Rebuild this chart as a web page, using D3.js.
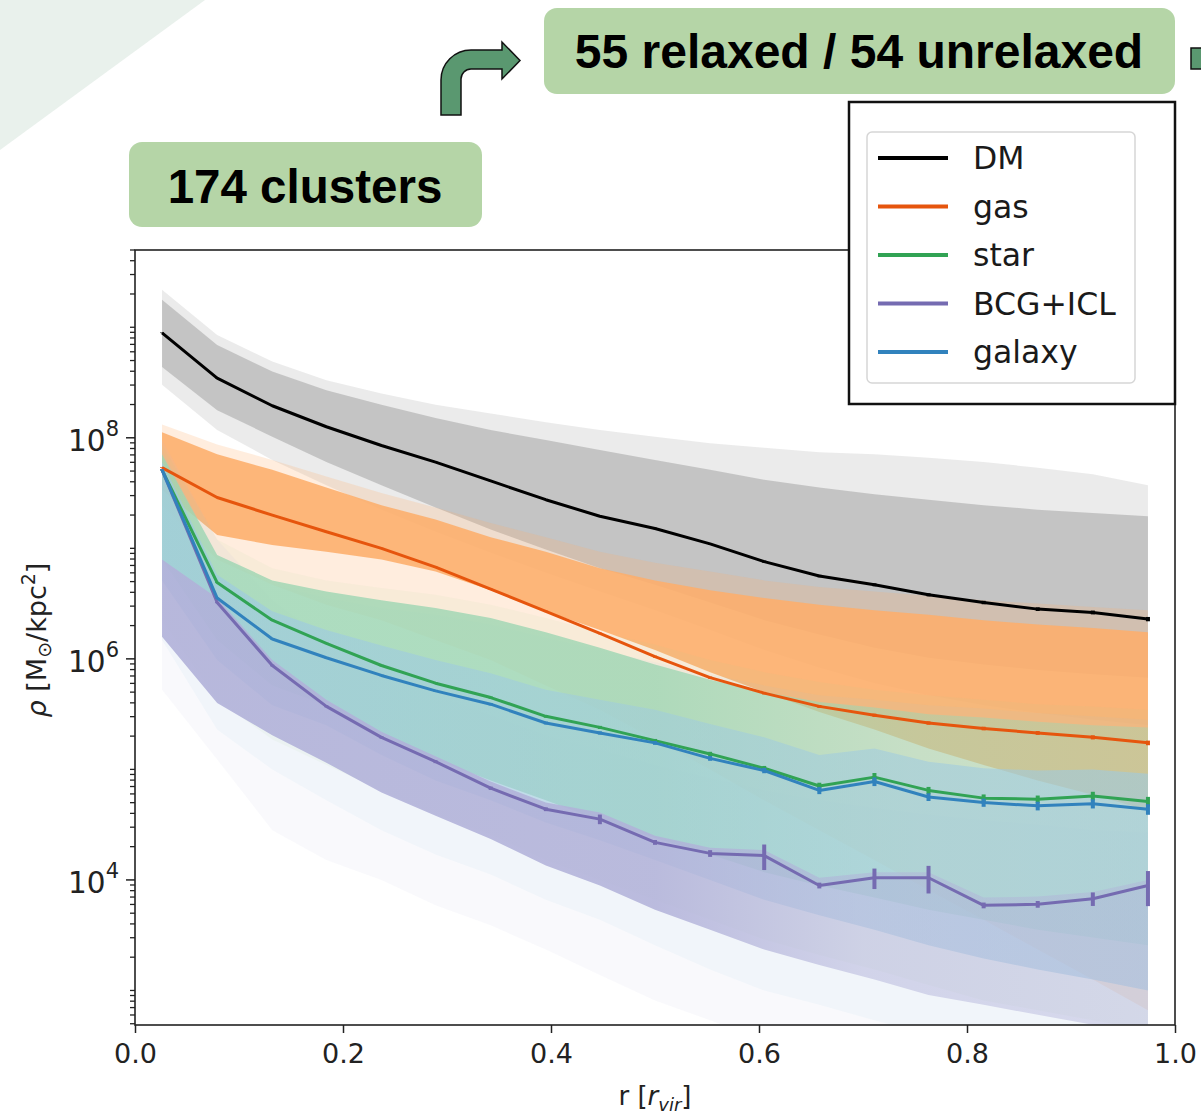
<!DOCTYPE html>
<html>
<head>
<meta charset="utf-8">
<script src="https://cdn.jsdelivr.net/npm/d3@7/dist/d3.min.js"></script>
<style>
  html, body { margin: 0; padding: 0; background: #ffffff; }
  svg { display: block; font-family: "DejaVu Sans", sans-serif; }
</style>
</head>
<body>
<svg id="chart" width="1201" height="1114"></svg>
<script>
// Radial bins: centres of 19 equal-width bins in r / r_vir
const rBins = [0.026, 0.079, 0.132, 0.184, 0.237, 0.289, 0.342, 0.395, 0.447, 0.500,
               0.553, 0.605, 0.658, 0.711, 0.763, 0.816, 0.868, 0.921, 0.974];

// Median projected density profiles, log10(rho / [Msun kpc^-2])
const medDM     = [8.95, 8.54, 8.29, 8.10, 7.93, 7.78, 7.61, 7.44, 7.29, 7.18, 7.04, 6.88, 6.75, 6.67, 6.58, 6.51, 6.45, 6.42, 6.36];
const medGas    = [7.73, 7.46, 7.30, 7.15, 7.00, 6.83, 6.63, 6.43, 6.23, 6.02, 5.83, 5.69, 5.57, 5.49, 5.42, 5.37, 5.33, 5.29, 5.24];
const medStar   = [7.71, 6.69, 6.35, 6.14, 5.94, 5.78, 5.65, 5.48, 5.38, 5.26, 5.14, 5.01, 4.85, 4.93, 4.81, 4.74, 4.73, 4.76, 4.71];
const medBCG    = [7.71, 6.51, 5.94, 5.57, 5.29, 5.07, 4.83, 4.64, 4.55, 4.34, 4.24, 4.22, 3.95, 4.02, 4.02, 3.77, 3.78, 3.83, 3.95];
const medGalaxy = [7.71, 6.55, 6.18, 6.01, 5.85, 5.71, 5.59, 5.42, 5.33, 5.24, 5.10, 4.99, 4.81, 4.89, 4.75, 4.70, 4.67, 4.69, 4.64];

// Relative uncertainty of the medians (sigma / rho)
const errDM     = [0.006, 0.006, 0.007, 0.007, 0.008, 0.009, 0.010, 0.011, 0.013, 0.015, 0.018, 0.022, 0.026, 0.030, 0.033, 0.036, 0.038, 0.040, 0.045];
const errGas    = [0.008, 0.008, 0.009, 0.010, 0.011, 0.012, 0.013, 0.015, 0.017, 0.020, 0.023, 0.026, 0.030, 0.033, 0.036, 0.038, 0.040, 0.043, 0.048];
const errStar   = [0.010, 0.010, 0.012, 0.014, 0.017, 0.020, 0.024, 0.028, 0.032, 0.036, 0.045, 0.050, 0.070, 0.090, 0.075, 0.080, 0.080, 0.090, 0.100];
const errBCG    = [0.010, 0.015, 0.020, 0.020, 0.025, 0.030, 0.035, 0.040, 0.100, 0.050, 0.070, 0.260, 0.060, 0.210, 0.280, 0.060, 0.070, 0.140, 0.350];
const errGalaxy = [0.010, 0.010, 0.013, 0.015, 0.018, 0.022, 0.025, 0.030, 0.034, 0.040, 0.050, 0.055, 0.075, 0.090, 0.080, 0.085, 0.090, 0.095, 0.110];

// Spread of the individual cluster profiles (log10 rho): dense core and faint outskirts
const dmInnerHi  = [9.25, 8.84, 8.60, 8.43, 8.30, 8.18, 8.07, 7.98, 7.89, 7.80, 7.71, 7.62, 7.55, 7.49, 7.44, 7.39, 7.35, 7.32, 7.29];
const dmInnerLo  = [8.64, 8.25, 8.01, 7.78, 7.57, 7.37, 7.17, 6.99, 6.82, 6.67, 6.51, 6.35, 6.22, 6.10, 6.01, 5.95, 5.90, 5.86, 5.83];
const dmOuterHi  = [9.34, 8.93, 8.69, 8.52, 8.40, 8.30, 8.22, 8.14, 8.07, 8.01, 7.95, 7.91, 7.87, 7.85, 7.82, 7.78, 7.73, 7.67, 7.57];
const dmOuterLo  = [8.48, 8.07, 7.80, 7.57, 7.35, 7.15, 6.96, 6.78, 6.61, 6.44, 6.26, 6.08, 5.92, 5.78, 5.67, 5.58, 5.51, 5.45, 5.40];

const gasInnerHi = [8.05, 7.85, 7.71, 7.55, 7.39, 7.26, 7.10, 6.97, 6.82, 6.71, 6.62, 6.55, 6.49, 6.44, 6.40, 6.35, 6.31, 6.28, 6.24];
const gasInnerLo = [7.53, 7.12, 7.03, 6.97, 6.90, 6.79, 6.62, 6.43, 6.26, 6.08, 5.88, 5.70, 5.52, 5.36, 5.19, 5.04, 4.90, 4.77, 4.63];
const gasOuterHi = [8.12, 7.94, 7.80, 7.65, 7.50, 7.37, 7.23, 7.10, 6.97, 6.87, 6.79, 6.71, 6.65, 6.61, 6.57, 6.53, 6.50, 6.47, 6.44];
const gasOuterLo = [7.39, 6.90, 6.67, 6.49, 6.35, 6.17, 5.99, 5.76, 5.54, 5.27, 5.00, 4.72, 4.45, 4.18, 3.91, 3.64, 3.37, 3.10, 2.82];

const starInnerHi = [7.85, 6.94, 6.71, 6.61, 6.53, 6.46, 6.37, 6.24, 6.10, 5.95, 5.81, 5.70, 5.61, 5.56, 5.50, 5.47, 5.43, 5.40, 5.38];
const starInnerLo = [6.90, 6.17, 5.76, 5.58, 5.31, 5.09, 4.90, 4.72, 4.54, 4.38, 4.23, 4.07, 3.95, 3.84, 3.73, 3.64, 3.55, 3.48, 3.41];
const starOuterHi = [7.94, 7.08, 6.82, 6.71, 6.64, 6.58, 6.49, 6.37, 6.24, 6.13, 5.99, 5.88, 5.79, 5.72, 5.67, 5.63, 5.59, 5.57, 5.54];
const starOuterLo = [6.35, 5.63, 5.27, 5.04, 4.81, 4.59, 4.41, 4.18, 4.00, 3.82, 3.64, 3.46, 3.32, 3.19, 3.05, 2.91, 2.82, 2.73, 2.64];

const bcgInnerHi = [6.90, 6.55, 5.99, 5.63, 5.34, 5.12, 4.89, 4.70, 4.61, 4.40, 4.29, 4.27, 4.02, 4.07, 4.07, 3.84, 3.85, 3.89, 4.00];
const bcgInnerLo = [6.20, 5.60, 5.31, 5.06, 4.79, 4.58, 4.37, 4.13, 3.95, 3.73, 3.55, 3.37, 3.23, 3.10, 2.96, 2.87, 2.78, 2.69, 2.64];
const bcgOuterHi = [7.98, 7.08, 6.53, 6.17, 5.90, 5.67, 5.49, 5.31, 5.18, 5.04, 4.92, 4.81, 4.72, 4.65, 4.59, 4.54, 4.50, 4.45, 4.43];
const bcgOuterLo = [5.72, 5.09, 4.45, 4.18, 4.00, 3.77, 3.59, 3.37, 3.14, 2.91, 2.73, 2.55, 2.37, 2.19, 2.01, 1.92, 1.83, 1.74, 1.65];

const galInnerHi = [7.78, 6.76, 6.43, 6.26, 6.12, 5.99, 5.87, 5.72, 5.63, 5.54, 5.41, 5.29, 5.13, 5.19, 5.07, 5.01, 4.99, 5.00, 4.96];
const galInnerLo = [6.71, 5.99, 5.58, 5.40, 5.13, 4.90, 4.72, 4.52, 4.36, 4.18, 4.00, 3.82, 3.68, 3.55, 3.41, 3.29, 3.19, 3.10, 3.00];
const galOuterHi = [7.89, 6.94, 6.67, 6.55, 6.46, 6.40, 6.31, 6.19, 6.08, 5.97, 5.86, 5.76, 5.67, 5.63, 5.58, 5.55, 5.51, 5.48, 5.45];
const galOuterLo = [6.17, 5.36, 5.00, 4.72, 4.45, 4.23, 4.05, 3.82, 3.64, 3.41, 3.19, 3.00, 2.87, 2.73, 2.60, 2.51, 2.42, 2.33, 2.24];

// Components, in legend order
const componentNames = ["DM", "gas", "star", "BCG+ICL", "galaxy"];
const lineColors = ["#000000", "#e6550d", "#31a354", "#756bb1", "#3182bd"];
const bandColors = ["#bdbdbd", "#fdae6b", "#a1d99b", "#bcbddc", "#9ecae1"];

// Axis ticks
const xTickValues = [0.0, 0.2, 0.4, 0.6, 0.8, 1.0];
const yLabelExponents = [4, 6, 8];

// Slide annotations
const headerSample = "55 relaxed / 54 unrelaxed";
const headerTotal = "174 clusters";

// ------------------------------------------------------------------
const svg = d3.select("#chart");
const plot = { left: 135, right: 1175, top: 250, bottom: 1025 };

const x = d3.scaleLinear().domain([0, 1]).range([plot.left, plot.right]);
const y = d3.scaleLog().domain([487, 5.0e9]).range([plot.bottom, plot.top]);

// Background corner shape
svg.append("polygon")
  .attr("points", "0,0 205,0 0,150")
  .attr("fill", "#e9f1ec");

const defs = svg.append("defs");
defs.append("clipPath").attr("id", "plotClip")
  .append("rect")
  .attr("x", plot.left).attr("y", plot.top)
  .attr("width", plot.right - plot.left).attr("height", plot.bottom - plot.top);

// Horizontal opacity ramps: the stellar profiles pile up differently with radius
function ramp(id, color, stops) {
  const g = defs.append("linearGradient")
    .attr("id", id)
    .attr("gradientUnits", "userSpaceOnUse")
    .attr("x1", plot.left).attr("x2", plot.right).attr("y1", 0).attr("y2", 0);
  stops.forEach(([o, a]) =>
    g.append("stop").attr("offset", o).attr("stop-color", color).attr("stop-opacity", a));
}
// star profiles are interleaved with the (blue) galaxy ones, giving a mint tone
ramp("starFade", "#9ed6b3", [[0, 0.82], [0.5, 0.8], [0.75, 0.5], [1, 0.42]]);
ramp("galFade", bandColors[4], [[0, 0.7], [0.5, 0.5], [1, 0.6]]);
ramp("bcgFade", "#b1b1d9", [[0, 0.9], [0.5, 0.85], [0.7, 0.5], [1, 0.4]]);

const gPlot = svg.append("g").attr("clip-path", "url(#plotClip)");

// Individual-profile envelopes
const area = d3.area()
  .x((d, i) => x(rBins[i]))
  .y0(d => y(Math.pow(10, d[0])))
  .y1(d => y(Math.pow(10, d[1])));

const bandLayers = [
  { lo: dmOuterLo,   hi: dmOuterHi,   fill: bandColors[0], op: 0.30 },
  { lo: dmInnerLo,   hi: dmInnerHi,   fill: bandColors[0], op: 0.85 },
  { lo: gasOuterLo,  hi: gasOuterHi,  fill: bandColors[1], op: 0.22 },
  { lo: gasInnerLo,  hi: gasInnerHi,  fill: bandColors[1], op: 0.88 },
  { lo: starOuterLo, hi: starOuterHi, fill: bandColors[2], op: 0.08 },
  { lo: galOuterLo,  hi: galOuterHi,  fill: bandColors[4], op: 0.08 },
  { lo: bcgOuterLo,  hi: bcgOuterHi,  fill: bandColors[3], op: 0.09 },
  { lo: starInnerLo, hi: starInnerHi, fill: "url(#starFade)", op: 1 },
  { lo: galInnerLo,  hi: galInnerHi,  fill: "url(#galFade)", op: 1 },
  { lo: bcgInnerLo,  hi: bcgInnerHi,  fill: "url(#bcgFade)", op: 1 }
];

gPlot.selectAll("path.band")
  .data(bandLayers)
  .join("path")
  .attr("class", "band")
  .attr("d", d => area(d3.zip(d.lo, d.hi)))
  .attr("fill", d => d.fill)
  .attr("fill-opacity", d => d.op)
  .attr("stroke", "none");

// Median profiles with error bars
const medians = [medDM, medGas, medStar, medBCG, medGalaxy];
const errors = [errDM, errGas, errStar, errBCG, errGalaxy];

const line = d3.line()
  .x((d, i) => x(rBins[i]))
  .y(d => y(Math.pow(10, d)));

medians.forEach((med, k) => {
  const g = gPlot.append("g");
  g.append("path")
    .attr("d", line(med))
    .attr("fill", "none")
    .attr("stroke", lineColors[k])
    .attr("stroke-width", 3)
    .attr("stroke-linejoin", "round");
  g.selectAll("line")
    .data(med.map((v, i) => ({ r: rBins[i], v: Math.pow(10, v), f: errors[k][i] })))
    .join("line")
    .attr("x1", d => x(d.r)).attr("x2", d => x(d.r))
    .attr("y1", d => y(d.v * (1 - d.f)))
    .attr("y2", d => y(d.v * (1 + d.f)))
    .attr("stroke", lineColors[k])
    .attr("stroke-width", 4);
});

// Frame
svg.append("rect")
  .attr("x", plot.left).attr("y", plot.top)
  .attr("width", plot.right - plot.left).attr("height", plot.bottom - plot.top)
  .attr("fill", "none").attr("stroke", "#222").attr("stroke-width", 1.6);

// X axis
const xAxis = d3.axisBottom(x)
  .tickValues(xTickValues)
  .tickFormat(d3.format(".1f"))
  .tickSize(8).tickSizeOuter(0).tickPadding(11);
const gx = svg.append("g").attr("transform", `translate(0,${plot.bottom})`).call(xAxis);
gx.select(".domain").remove();
gx.selectAll(".tick line").attr("stroke", "#222").attr("stroke-width", 1.5);
gx.selectAll(".tick text")
  .style("font-family", "DejaVu Sans").style("font-size", "27px").attr("fill", "#222");

// Y axis: minor ticks at every k*10^n, major ticks at the labelled decades
const allYTicks = y.ticks(60).filter(v => v >= y.domain()[0] && v <= y.domain()[1]);
const majorVals = yLabelExponents.map(e => Math.pow(10, e));
const isMajor = v => majorVals.some(m => Math.abs(Math.log10(v) - Math.log10(m)) < 1e-6);

const gy = svg.append("g").attr("transform", `translate(${plot.left},0)`);
gy.selectAll("line.minor")
  .data(allYTicks.filter(v => !isMajor(v)))
  .join("line")
  .attr("x1", -5).attr("x2", 0)
  .attr("y1", d => y(d)).attr("y2", d => y(d))
  .attr("stroke", "#222").attr("stroke-width", 1.3);
gy.selectAll("line.major")
  .data(majorVals)
  .join("line")
  .attr("x1", -9).attr("x2", 0)
  .attr("y1", d => y(d)).attr("y2", d => y(d))
  .attr("stroke", "#222").attr("stroke-width", 1.5);

const yLab = gy.selectAll("text.ylab")
  .data(yLabelExponents)
  .join("text")
  .attr("class", "ylab")
  .attr("x", -16)
  .attr("y", d => y(Math.pow(10, d)) + 13)
  .attr("text-anchor", "end")
  .style("font-size", "29.5px")
  .attr("fill", "#222");
yLab.append("tspan").text("10");
yLab.append("tspan").attr("dy", -15).style("font-size", "21px").text(d => d);

// Axis titles
const xTitle = svg.append("text")
  .attr("x", 655).attr("y", 1105)
  .attr("text-anchor", "middle")
  .style("font-size", "26px").attr("fill", "#222");
xTitle.append("tspan").text("r [");
xTitle.append("tspan").attr("font-style", "italic").text("r");
xTitle.append("tspan").attr("font-style", "italic").style("font-size", "18px").attr("dy", 6).text("vir");
xTitle.append("tspan").attr("dy", -6).text("]");

const yTitle = svg.append("text")
  .attr("transform", "translate(46,640) rotate(-90)")
  .attr("text-anchor", "middle")
  .style("font-size", "27px").attr("fill", "#222");
yTitle.append("tspan").attr("font-style", "italic").text("ρ");
yTitle.append("tspan").text(" [M");
yTitle.append("tspan").style("font-size", "19px").attr("dy", 5).text("⊙");
yTitle.append("tspan").attr("dy", -5).text("/kpc");
yTitle.append("tspan").style("font-size", "19px").attr("dy", -11).text("2");
yTitle.append("tspan").attr("dy", 11).text("]");

// Legend
const gLeg = svg.append("g");
gLeg.append("rect")
  .attr("x", 849).attr("y", 102).attr("width", 326).attr("height", 302)
  .attr("fill", "#fff").attr("stroke", "#111").attr("stroke-width", 2.5);
gLeg.append("rect")
  .attr("x", 867).attr("y", 132).attr("width", 268).attr("height", 251)
  .attr("rx", 5)
  .attr("fill", "#fff").attr("stroke", "#d6d6d6").attr("stroke-width", 1.5);
const legRows = gLeg.selectAll("g.row")
  .data(componentNames)
  .join("g")
  .attr("transform", (d, i) => `translate(0,${158 + i * 48.5})`);
legRows.append("line")
  .attr("x1", 878).attr("x2", 948)
  .attr("stroke", (d, i) => lineColors[i]).attr("stroke-width", 4);
legRows.append("text")
  .attr("x", 973).attr("y", 11)
  .style("font-size", "31.5px").attr("fill", "#1a1a1a")
  .text(d => d);

// Header boxes and arrow
const boldFont = "'Liberation Sans', Arial, Helvetica, sans-serif";
svg.append("rect")
  .attr("x", 544).attr("y", 8).attr("width", 631).attr("height", 86).attr("rx", 13)
  .attr("fill", "#b5d5a7");
svg.append("text")
  .attr("x", 859).attr("y", 68)
  .attr("text-anchor", "middle")
  .style("font-family", boldFont)
  .style("font-weight", "bold").style("font-size", "48px")
  .attr("fill", "#000")
  .text(headerSample);

svg.append("rect")
  .attr("x", 129).attr("y", 142).attr("width", 353).attr("height", 85).attr("rx", 13)
  .attr("fill", "#b5d5a7");
svg.append("text")
  .attr("x", 305).attr("y", 203)
  .attr("text-anchor", "middle")
  .style("font-family", boldFont)
  .style("font-weight", "bold").style("font-size", "47.5px")
  .attr("fill", "#000")
  .text(headerTotal);

svg.append("path")
  .attr("d", "M441,115 V80 A30,30 0 0 1 471,50 H502 V42 L520,60.5 L502,79 V69 H471 A10,10 0 0 0 461,79 V115 Z")
  .attr("fill", "#5a9870").attr("stroke", "#111").attr("stroke-width", 1.5);

svg.append("rect")
  .attr("x", 1191).attr("y", 48).attr("width", 14).attr("height", 21)
  .attr("fill", "#5a9870").attr("stroke", "#111").attr("stroke-width", 1.5);
</script>
</body>
</html>
